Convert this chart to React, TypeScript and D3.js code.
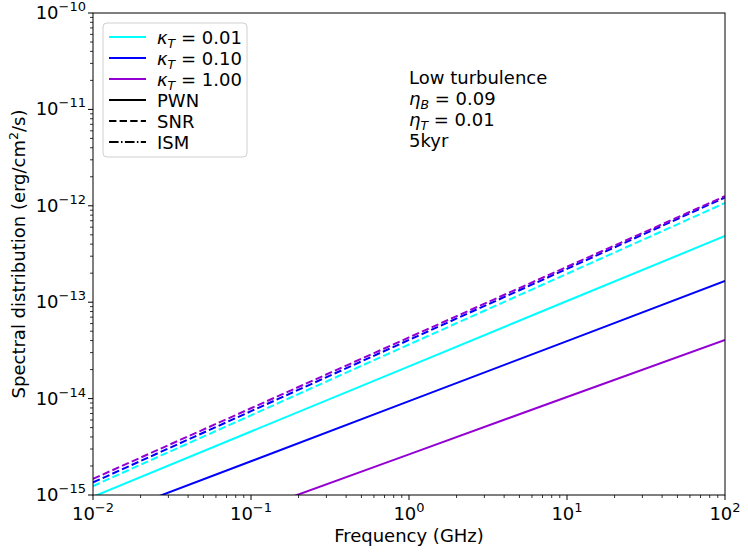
import React from 'react';
import * as d3 from 'd3';

// frequency grid (GHz) and spectra (erg/cm^2/s)
const freqs = [0.01, 0.1, 1, 10, 100];

const pwnK001 = [9.6e-16, 4.56e-15, 2.16e-14, 1.03e-13, 4.86e-13];
const pwnK010 = [5.35e-16, 2.24e-15, 9.42e-15, 3.95e-14, 1.66e-13];
const pwnK100 = [1.71e-16, 6.71e-16, 2.64e-15, 1.04e-14, 4.06e-14];

const snrK001 = [1.24e-15, 6.71e-15, 3.64e-14, 1.97e-13, 1.07e-12];
const snrK010 = [1.35e-15, 7.4e-15, 4.06e-14, 2.22e-13, 1.22e-12];
const snrK100 = [1.47e-15, 7.94e-15, 4.31e-14, 2.33e-13, 1.26e-12];

const kappaLabels = ['0.01', '0.10', '1.00'];
const kappaColors = ['#00ffff', '#0000ff', '#9400d3'];
const styleLabels = ['PWN', 'SNR', 'ISM'];

const xTicks = [-2, -1, 0, 1, 2];
const yTicks = [-15, -14, -13, -12, -11, -10];

const W = 748;
const H = 552;
const margin = { left: 93, right: 23, top: 13, bottom: 57 };
const FONT = 'DejaVu Sans, sans-serif';

const dashFor: Record<string, string | undefined> = {
  PWN: undefined,
  SNR: '7.4,3.2',
  ISM: '9.6,2.4,1.5,2.4',
};

const expText = (e: number) => (e < 0 ? '\u2212' + Math.abs(e) : String(e));

const App: React.FC = () => {
  const x = d3.scaleLog([1e-2, 1e2], [margin.left, W - margin.right]);
  const y = d3.scaleLog([1e-15, 1e-10], [H - margin.bottom, margin.top]);

  const line = d3
    .line<number>()
    .x((_, i) => x(freqs[i]))
    .y((d) => y(d));

  const series = [
    { vals: pwnK001, color: kappaColors[0], kind: 'PWN' },
    { vals: pwnK010, color: kappaColors[1], kind: 'PWN' },
    { vals: pwnK100, color: kappaColors[2], kind: 'PWN' },
    { vals: snrK001, color: kappaColors[0], kind: 'SNR' },
    { vals: snrK010, color: kappaColors[1], kind: 'SNR' },
    { vals: snrK100, color: kappaColors[2], kind: 'SNR' },
  ];

  const x0 = margin.left;
  const x1 = W - margin.right;
  const y0 = H - margin.bottom;
  const y1 = margin.top;

  const minorX: number[] = [];
  xTicks.slice(0, -1).forEach((e) => {
    for (let m = 2; m <= 9; m++) minorX.push(m * Math.pow(10, e));
  });
  const minorY: number[] = [];
  yTicks.slice(0, -1).forEach((e) => {
    for (let m = 2; m <= 9; m++) minorY.push(m * Math.pow(10, e));
  });

  const legendRows = [
    ...kappaLabels.map((k, i) => ({ kind: 'kappa', label: k, color: kappaColors[i], dash: undefined as string | undefined })),
    ...styleLabels.map((s) => ({ kind: 'style', label: s, color: '#000', dash: dashFor[s] })),
  ];

  return (
    <svg
      width={W}
      height={H}
      style={{ position: 'absolute', left: 0, top: 0, background: '#fff' }}
      fontFamily={FONT}
    >
      <defs>
        <clipPath id="plot">
          <rect x={x0} y={y1} width={x1 - x0} height={y0 - y1} />
        </clipPath>
      </defs>
      <rect x={0} y={0} width={W} height={H} fill="#fff" />

      <g clipPath="url(#plot)">
        {series.map((s, i) => (
          <path
            key={i}
            d={line(s.vals) || ''}
            fill="none"
            stroke={s.color}
            strokeWidth={2}
            strokeDasharray={dashFor[s.kind]}
          />
        ))}
      </g>

      {/* frame */}
      <rect x={x0} y={y1} width={x1 - x0} height={y0 - y1} fill="none" stroke="#000" strokeWidth={1} />

      {/* x ticks */}
      {xTicks.map((e) => (
        <g key={e}>
          <line x1={x(Math.pow(10, e))} x2={x(Math.pow(10, e))} y1={y0} y2={y0 + 5} stroke="#000" />
          <text x={x(Math.pow(10, e))} y={y0 + 25} textAnchor="middle" fontSize={18}>
            10<tspan fontSize={13} dy={-8}>{expText(e)}</tspan>
          </text>
        </g>
      ))}
      {minorX.map((v, i) => (
        <line key={i} x1={x(v)} x2={x(v)} y1={y0} y2={y0 + 3} stroke="#000" strokeWidth={0.8} />
      ))}

      {/* y ticks */}
      {yTicks.map((e) => (
        <g key={e}>
          <line x1={x0 - 5} x2={x0} y1={y(Math.pow(10, e))} y2={y(Math.pow(10, e))} stroke="#000" />
          <text x={x0 - 7} y={y(Math.pow(10, e)) + 6} textAnchor="end" fontSize={18}>
            10<tspan fontSize={13} dy={-8}>{expText(e)}</tspan>
          </text>
        </g>
      ))}
      {minorY.map((v, i) => (
        <line key={i} x1={x0 - 3} x2={x0} y1={y(v)} y2={y(v)} stroke="#000" strokeWidth={0.8} />
      ))}

      {/* axis labels */}
      <text x={(x0 + x1) / 2} y={542} textAnchor="middle" fontSize={18}>
        Frequency (GHz)
      </text>
      <text transform={`translate(25,${(y0 + y1) / 2}) rotate(-90)`} textAnchor="middle" fontSize={18}>
        Spectral distribution (erg/cm<tspan fontSize={12.5} dy={-7}>2</tspan>
        <tspan dy={7}>/s)</tspan>
      </text>

      {/* legend */}
      <rect x={103} y={23} width={144} height={134} rx={4} fill="#fff" fillOpacity={0.8} stroke="#d0d0d0" />
      {legendRows.map((r, i) => {
        const ly = 37 + i * 21;
        return (
          <g key={i}>
            <line x1={109} x2={146} y1={ly} y2={ly} stroke={r.color} strokeWidth={2} strokeDasharray={r.dash} />
            {r.kind === 'kappa' ? (
              <text x={157} y={ly + 6.5} fontSize={18}>
                <tspan fontStyle="italic">κ</tspan>
                <tspan fontStyle="italic" fontSize={12.5} dy={4}>T</tspan>
                <tspan dy={-4}>{' = ' + r.label}</tspan>
              </text>
            ) : (
              <text x={157} y={ly + 6.5} fontSize={18}>
                {r.label}
              </text>
            )}
          </g>
        );
      })}

      {/* annotation */}
      <g fontSize={18}>
        <text x={409} y={84}>Low turbulence</text>
        <text x={409} y={105}>
          <tspan fontStyle="italic">η</tspan>
          <tspan fontStyle="italic" fontSize={12.5} dy={4}>B</tspan>
          <tspan dy={-4}>{' = 0.09'}</tspan>
        </text>
        <text x={409} y={126}>
          <tspan fontStyle="italic">η</tspan>
          <tspan fontStyle="italic" fontSize={12.5} dy={4}>T</tspan>
          <tspan dy={-4}>{' = 0.01'}</tspan>
        </text>
        <text x={409} y={147}>5kyr</text>
      </g>
    </svg>
  );
};

export default App;
